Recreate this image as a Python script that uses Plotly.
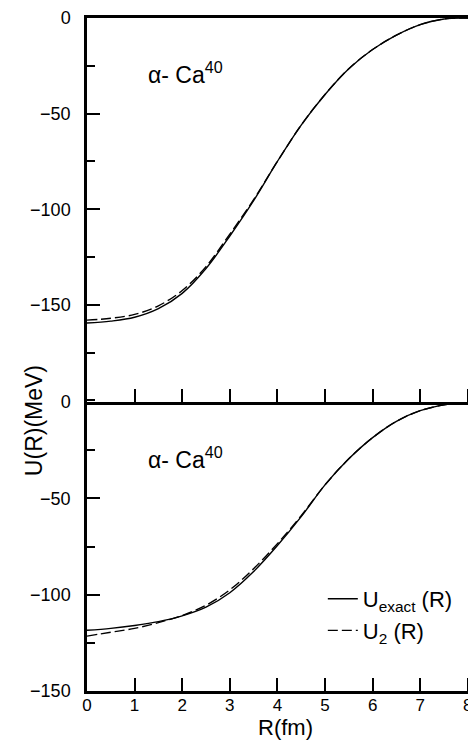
import plotly.graph_objects as go
from plotly.subplots import make_subplots

# Radius grid (fm)
R = [0, 0.5, 1, 1.5, 2, 2.5, 3, 3.5, 4, 4.5, 5, 5.5, 6, 6.5, 7, 7.5, 8, 8.35]

# Top panel (alpha - Ca40, case 1)
top_exact = [-159.5, -158.5, -156.5, -152, -144, -131, -114, -95.5, -75, -56, -40, -26.5,
             -16.5, -9, -3.5, -0.5, 0, 0]
top_u2 = [-158, -157, -155, -150.5, -142.5, -130, -113, -95, -75, -56, -40, -26.5,
          -16.5, -9, -3.5, -0.5, 0, 0]

# Bottom panel (alpha - Ca40, case 2)
bot_exact = [-118.5, -117.5, -116, -114, -111, -106.5, -99, -88, -74.5, -59.5, -43, -29.5,
             -18.5, -10, -4.5, -1.5, -0.2, 0]
bot_u2 = [-121.5, -119.5, -117.5, -114.5, -110.8, -105.5, -97.5, -86.5, -73.5, -59, -43, -29.5,
          -18.5, -10, -4.5, -1.5, -0.2, 0]

x_ticks = [0, 1, 2, 3, 4, 5, 6, 7, 8]
y_major = [0, -50, -100, -150]

FONT = "Liberation Sans"

fig = make_subplots(rows=2, cols=1, shared_xaxes=False, vertical_spacing=0,
                    row_heights=[0.5706, 0.4294])

fig.add_trace(go.Scatter(x=R, y=top_exact, mode="lines", line=dict(color="black", width=1.4),
                         showlegend=False, line_shape="spline"), row=1, col=1)
fig.add_trace(go.Scatter(x=R, y=top_u2, mode="lines",
                         line=dict(color="black", width=1.4, dash="10px,4px"),
                         showlegend=False, line_shape="spline"), row=1, col=1)
fig.add_trace(go.Scatter(x=R, y=bot_exact, mode="lines", line=dict(color="black", width=1.4),
                         name="U<sub>exact</sub> (R)", line_shape="spline"), row=2, col=1)
fig.add_trace(go.Scatter(x=R, y=bot_u2, mode="lines",
                         line=dict(color="black", width=1.4, dash="10px,4px"),
                         name="U<sub>2</sub> (R)", line_shape="spline"), row=2, col=1)

xcommon = dict(range=[0, 8.34], showline=True, linecolor="black", linewidth=2.5,
               ticks="inside", ticklen=13, tickwidth=1.5, tickcolor="black",
               tickvals=x_ticks, showgrid=False, zeroline=False, automargin=False)
fig.update_xaxes(**xcommon, showticklabels=False, mirror=True, row=1, col=1)
fig.update_xaxes(**xcommon, showticklabels=True, mirror=False,
                 ticktext=[str(v) for v in x_ticks], ticklabelstandoff=-3,
                 tickfont=dict(family=FONT, size=17, color="black"),
                 title=dict(text="R(fm)", font=dict(family=FONT, size=22, color="black"),
                            standoff=0),
                 row=2, col=1)

ycommon = dict(showline=True, linecolor="black", linewidth=2.5, ticks="inside",
               ticklen=13, tickwidth=1.5, tickcolor="black", tickvals=y_major,
               showgrid=False, zeroline=False, ticklabelstandoff=10, automargin=False,
               tickfont=dict(family=FONT, size=18, color="black"),
               minor=dict(ticks="inside", ticklen=8, tickwidth=1.5, tickcolor="black",
                          dtick=25, showgrid=False))
fig.update_yaxes(**ycommon, range=[-200.8, 0], row=1, col=1)
fig.update_yaxes(**ycommon, range=[-150, 0], row=2, col=1)

fig.add_annotation(text="α- Ca<sup>40</sup>", xref="x", yref="y", x=1.23, y=-29,
                   showarrow=False, xanchor="left",
                   font=dict(family=FONT, size=23, color="black"))
fig.add_annotation(text="α- Ca<sup>40</sup>", xref="x2", yref="y2", x=1.23, y=-29,
                   showarrow=False, xanchor="left",
                   font=dict(family=FONT, size=23, color="black"))
fig.add_annotation(text="U(R)(MeV)", xref="paper", yref="paper", x=-0.1335, y=0.401,
                   xanchor="center", yanchor="middle",
                   textangle=-90, showarrow=False,
                   font=dict(family=FONT, size=23, color="black"))

fig.update_layout(
    width=476, height=742,
    margin=dict(l=79, r=0, t=10, b=59),
    paper_bgcolor="white", plot_bgcolor="white",
    legend=dict(x=0.594, y=0.168, xanchor="left", yanchor="top",
                font=dict(family=FONT, size=22, color="black"),
                bgcolor="rgba(0,0,0,0)", borderwidth=0),
)

fig.write_html("out.html")
